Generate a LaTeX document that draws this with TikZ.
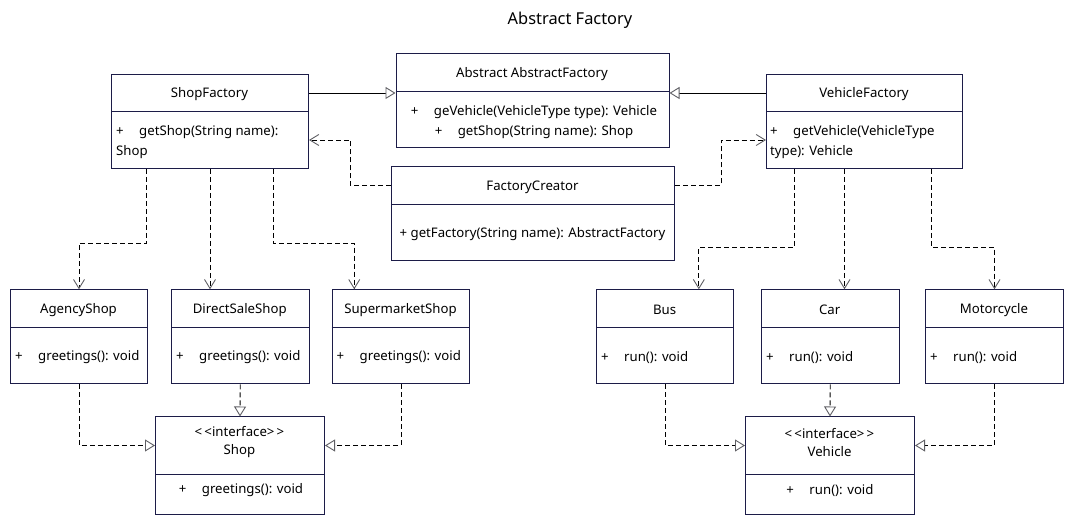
\documentclass[tikz,border=0pt]{standalone}
\usepackage{fontspec}
\setmainfont{Noto Sans}
\usepackage{tikz}
\usetikzlibrary{arrows.meta,calc}
\definecolor{navy}{RGB}{28,28,72}
\definecolor{tipgray}{RGB}{95,95,100}
\newcommand{\pub}{\makebox[23pt][l]{+}}
\tikzset{
  cls/.style={draw=navy,line width=1pt,fill=white,inner sep=0pt,anchor=north west},
  sep/.style={draw=navy,line width=1pt},
  hd/.style={inner sep=1pt,yshift=-1.5pt,font=\fontsize{13.2pt}{18pt}\selectfont,align=center},
  mb/.style={inner sep=1pt,yshift=-1.5pt,font=\fontsize{13.2pt}{20pt}\selectfont},
  gen/.style={line width=0.9pt,-{Triangle[open,length=10pt,width=12pt,color=tipgray,fill=white]}},
  dep/.style={line width=0.9pt,dash pattern=on 5pt off 3pt,-{Straight Barb[length=9pt,width=11pt,color=tipgray]}},
  real/.style={line width=0.9pt,dash pattern=on 5pt off 3pt,-{Triangle[open,length=10pt,width=12pt,color=tipgray,fill=white]}}
}
\begin{document}
\begin{tikzpicture}[x=1pt,y=-1pt]
\useasboundingbox (0,0) rectangle (1072,526);
\node[font=\fontsize{16.4pt}{18pt}\selectfont] (title) at (570,20) {Abstract Factory};
% factories
\node[cls,minimum width=197pt,minimum height=94pt] (shopf) at (111,74) {};
\draw[sep] (shopf.west |- 0,112) -- (shopf.east |- 0,112);
\node[hd] (shopf-h) at (209.5,93) {ShopFactory};
\node[mb,anchor=west,align=left] (shopf-b) at (115,141) {\pub getShop(String name):\\Shop};
\node[cls,minimum width=273pt,minimum height=94pt] (absf) at (395.5,53.5) {};
\draw[sep] (absf.west |- 0,92) -- (absf.east |- 0,92);
\node[hd] (absf-h) at (532,73) {Abstract AbstractFactory};
\node[mb,align=center] (absf-b) at (534,120.5) {\pub geVehicle(VehicleType type): Vehicle\\\pub getShop(String name): Shop};
\node[cls,minimum width=196pt,minimum height=94pt] (vehf) at (766,74) {};
\draw[sep] (vehf.west |- 0,112) -- (vehf.east |- 0,112);
\node[hd] (vehf-h) at (864,93) {VehicleFactory};
\node[mb,anchor=west,align=left] (vehf-b) at (769,141) {\pub getVehicle(VehicleType\\type): Vehicle};
\node[cls,minimum width=283pt,minimum height=94pt] (creator) at (391,166.5) {};
\draw[sep] (creator.west |- 0,204.5) -- (creator.east |- 0,204.5);
\node[hd] (creator-h) at (532.5,185.5) {FactoryCreator};
\node[mb] (creator-b) at (532.5,233) {+ getFactory(String name): AbstractFactory};
% shops
\node[cls,minimum width=137pt,minimum height=94pt] (agency) at (10,289.3) {};
\draw[sep] (agency.west |- 0,327.3) -- (agency.east |- 0,327.3);
\node[hd] (agency-h) at (78.5,308.5) {AgencyShop};
\node[mb,anchor=west] (agency-b) at (14,356) {\pub greetings(): void};
\node[cls,minimum width=137.5pt,minimum height=94pt] (direct) at (171,289.3) {};
\draw[sep] (direct.west |- 0,327.3) -- (direct.east |- 0,327.3);
\node[hd] (direct-h) at (239.75,308.5) {DirectSaleShop};
\node[mb,anchor=west] (direct-b) at (175,356) {\pub greetings(): void};
\node[cls,minimum width=137.5pt,minimum height=94pt] (superm) at (331.7,289.3) {};
\draw[sep] (superm.west |- 0,327.3) -- (superm.east |- 0,327.3);
\node[hd] (superm-h) at (400.45,308.5) {SupermarketShop};
\node[mb,anchor=west] (superm-b) at (335.5,356) {\pub greetings(): void};
\node[cls,minimum width=169pt,minimum height=98pt] (shop) at (155,416.5) {};
\draw[sep] (shop.west |- 0,474.3) -- (shop.east |- 0,474.3);
\node[hd] (shop-h) at (239.5,441) {<\,<interface>\,>\\Shop};
\node[mb] (shop-b) at (241,489) {\pub greetings(): void};
% vehicles
\node[cls,minimum width=137.3pt,minimum height=94pt] (bus) at (596,289.3) {};
\draw[sep] (bus.west |- 0,327.3) -- (bus.east |- 0,327.3);
\node[hd] (bus-h) at (664.65,308.5) {Bus};
\node[mb,anchor=west] (bus-b) at (600,356) {\pub run(): void};
\node[cls,minimum width=137.5pt,minimum height=94pt] (car) at (761,289.3) {};
\draw[sep] (car.west |- 0,327.3) -- (car.east |- 0,327.3);
\node[hd] (car-h) at (829.75,308.5) {Car};
\node[mb,anchor=west] (car-b) at (765,356) {\pub run(): void};
\node[cls,minimum width=137.4pt,minimum height=94pt] (moto) at (925.3,289.3) {};
\draw[sep] (moto.west |- 0,327.3) -- (moto.east |- 0,327.3);
\node[hd] (moto-h) at (994,308.5) {Motorcycle};
\node[mb,anchor=west] (moto-b) at (929,356) {\pub run(): void};
\node[cls,minimum width=169pt,minimum height=98pt] (vehicle) at (745,416.5) {};
\draw[sep] (vehicle.west |- 0,474.3) -- (vehicle.east |- 0,474.3);
\node[hd] (vehicle-h) at (829.5,441) {<\,<interface>\,>\\Vehicle};
\node[mb] (vehicle-b) at (830,489) {\pub run(): void};
% inheritance
\draw[gen] (shopf.east |- 0,93) -- (absf.west |- 0,93);
\draw[gen] (vehf.west |- 0,93) -- (absf.east |- 0,93);
% creator uses factories
\draw[dep] (creator.west |- 0,185.5) -- ++(-41,0) |- (shopf.east |- 0,140);
\draw[dep] (creator.east |- 0,185.5) -- ++(46,0) |- (vehf.west |- 0,140);
% factories create products
\draw[dep] ([xshift=-63.5pt]shopf.south) -- ++(0,74) -| (agency.north);
\draw[dep] (shopf.south) -- (shopf.south |- direct.north);
\draw[dep] ([xshift=63pt]shopf.south) -- ++(0,74) -| ([xshift=-46.7pt]superm.north);
\draw[dep] ([xshift=-70pt]vehf.south) -- ++(0,78) -| ([xshift=33.7pt]bus.north);
\draw[dep] ([xshift=-20pt]vehf.south) -- ([xshift=-20pt]vehf.south |- car.north);
\draw[dep] ([xshift=66.7pt]vehf.south) -- ++(0,78) -| (moto.north);
% products implement interfaces
\draw[real] (agency.south) |- (shop.west |- 0,445.5);
\draw[real] (direct.south) -- (shop.north);
\draw[real] (superm.south) |- (shop.east |- 0,445.5);
\draw[real] (bus.south) |- (vehicle.west |- 0,445.5);
\draw[real] (car.south) -- (vehicle.north);
\draw[real] (moto.south) |- (vehicle.east |- 0,445.5);
\end{tikzpicture}
\end{document}
